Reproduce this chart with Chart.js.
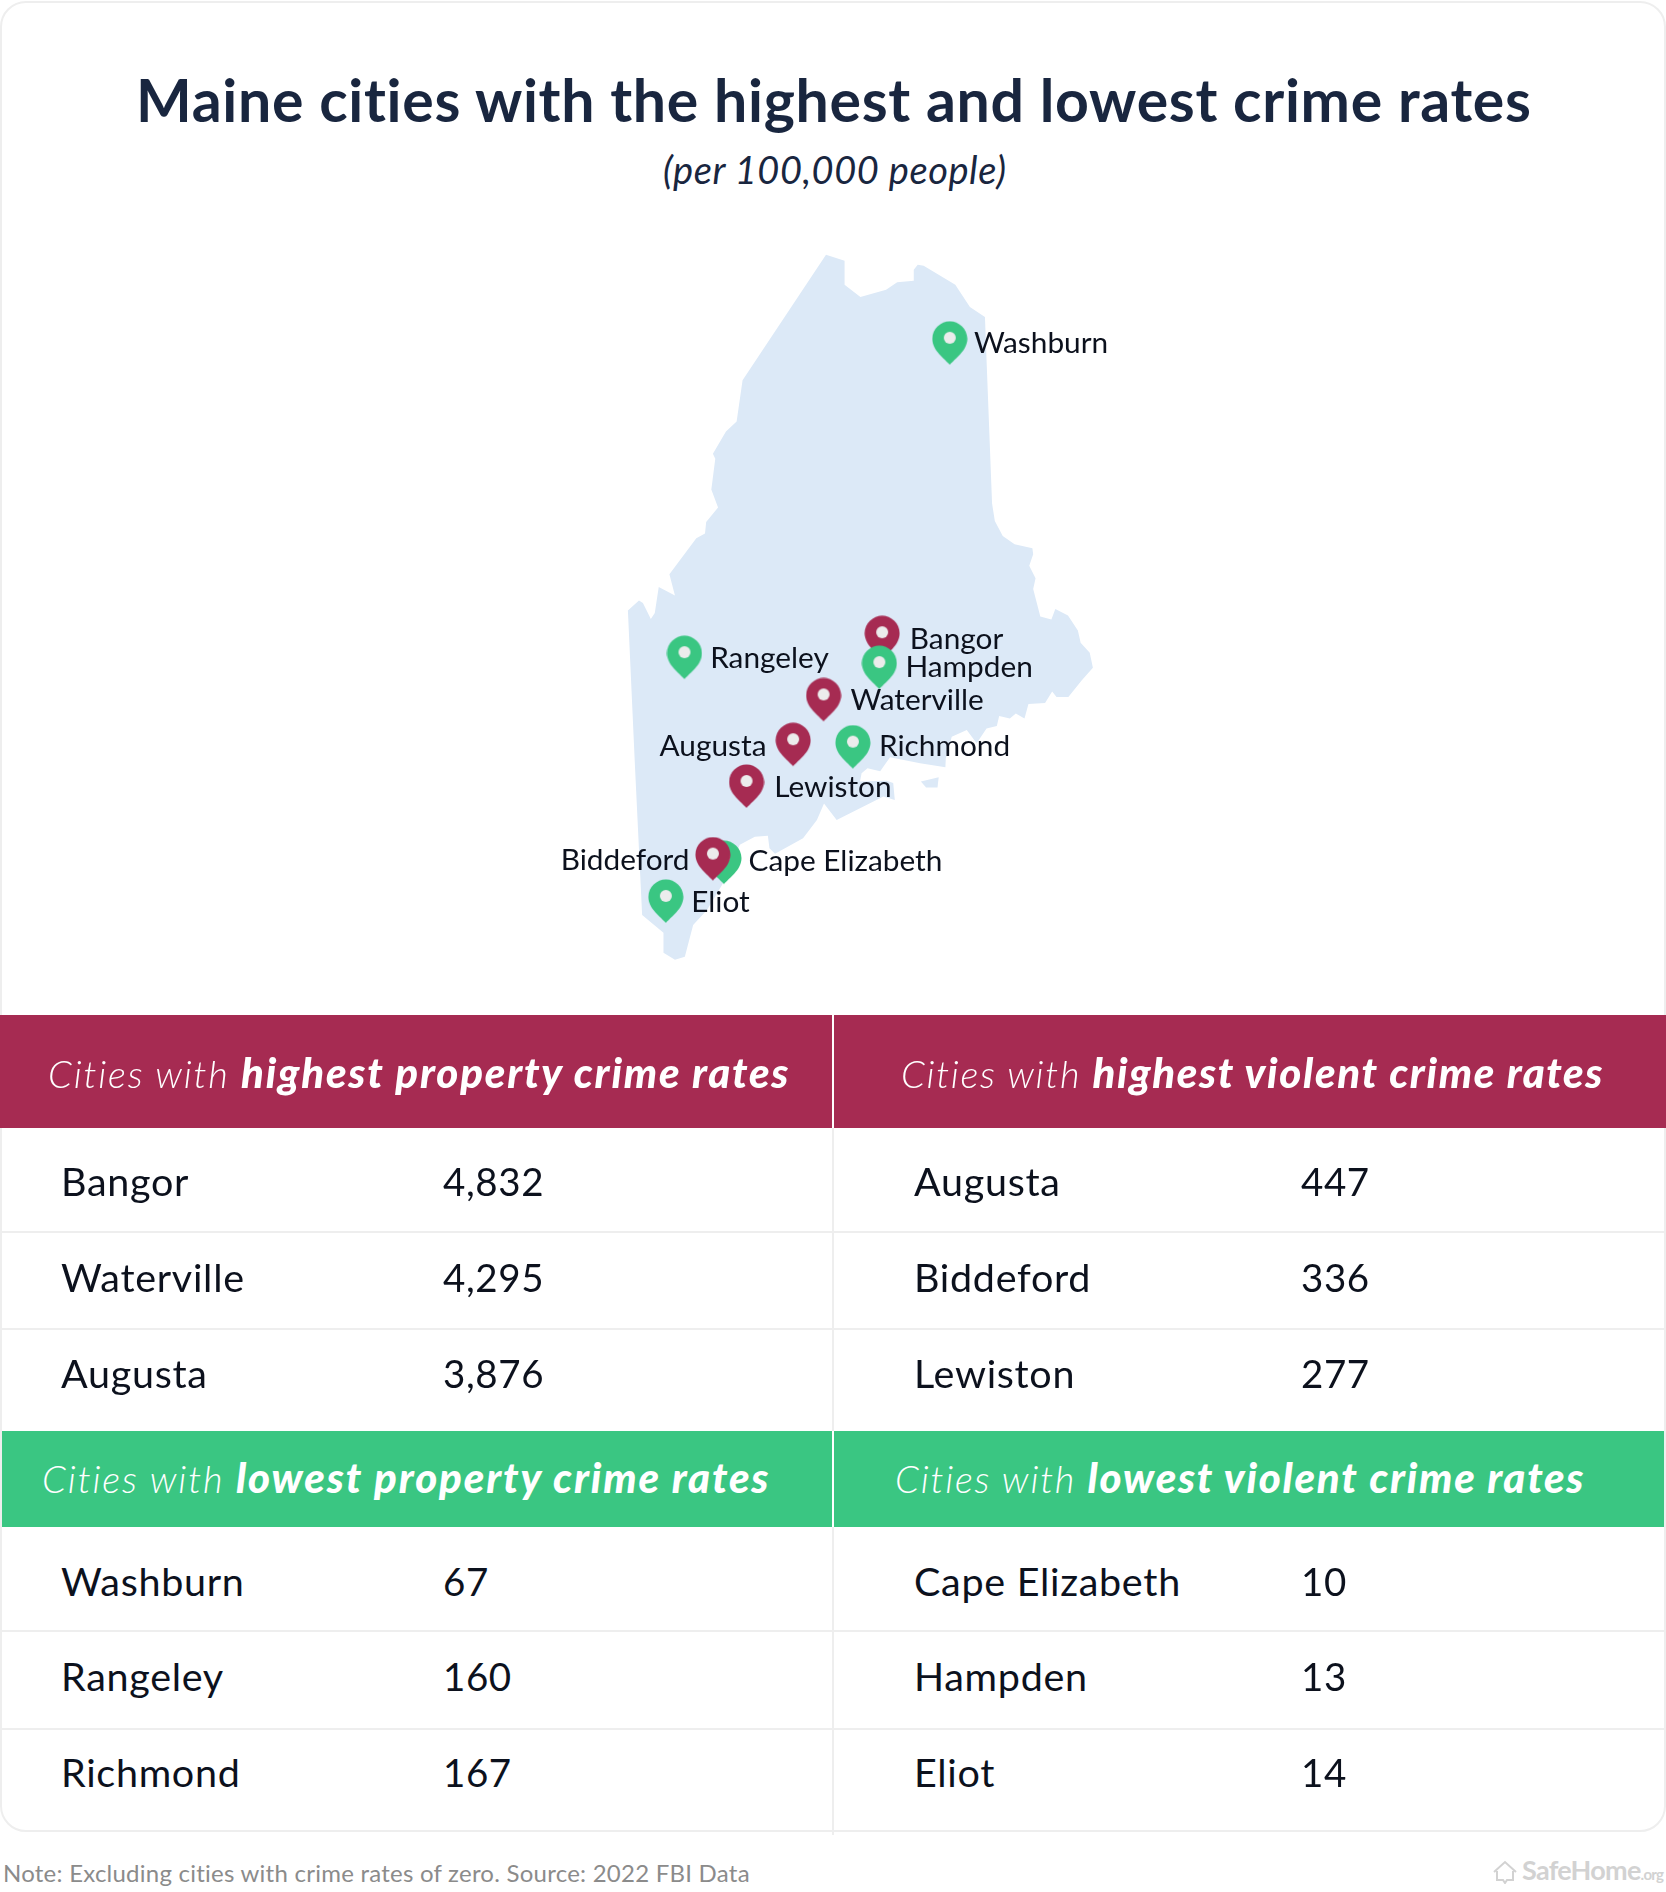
<!DOCTYPE html>
<html><head><meta charset="utf-8">
<script src="https://cdn.jsdelivr.net/npm/chart.js@4"></script>
<style>
html,body{margin:0;padding:0;background:#fff;}
#page{position:relative;width:1666px;height:1892px;overflow:hidden;background:#fff;font-family:Lato,sans-serif;}
.card{position:absolute;left:0;top:1px;width:1662px;height:1827px;border:2px solid #eeeeee;border-radius:26px;}
.box{position:absolute;}
.t{position:absolute;height:100px;line-height:0;white-space:nowrap;}
.t i.s{display:inline-block;height:100px;width:0;}
#map{position:absolute;left:550px;top:220px;}
</style></head><body><div id="page"><div class="card"></div><canvas id="map" width="620" height="780"></canvas></div>
<script>
// ---- text ----
const titleText = "Maine cities with the highest and lowest crime rates";
const subtitleText = "(per 100,000 people)";
const noteText = "Note: Excluding cities with crime rates of zero. Source: 2022 FBI Data";

// ---- table data ----
const highPropertyCities = ["Bangor","Waterville","Augusta"];
const highPropertyRates  = [4832,4295,3876];
const highViolentCities  = ["Augusta","Biddeford","Lewiston"];
const highViolentRates   = [447,336,277];
const lowPropertyCities  = ["Washburn","Rangeley","Richmond"];
const lowPropertyRates   = [67,160,167];
const lowViolentCities   = ["Cape Elizabeth","Hampden","Eliot"];
const lowViolentRates    = [10,13,14];

// ---- map data on a 0-1568 map grid ----
const mainlandOutline = [[698,70],[745,82],[745,130],[785,155],[850,140],[878,125],[920,122],[920,100],[930,90],[945,92],[1025,130],[1062,175],[1100,195],[1103,260],[1118,570],[1125,605],[1145,635],[1175,652],[1220,660],[1222,672],[1212,695],[1228,720],[1222,742],[1240,797],[1268,803],[1278,782],[1310,795],[1335,825],[1342,850],[1365,870],[1373,900],[1345,925],[1311,959],[1281,959],[1270,948],[1252,971],[1210,973],[1200,1002],[1178,992],[1163,1002],[1136,997],[1130,1017],[1104,1022],[1079,1052],[1054,1025],[1016,1039],[1001,1082],[1000,1100],[936,1092],[860,1080],[835,1108],[803,1102],[788,1112],[784,1129],[851,1127],[868,1132],[872,1166],[843,1159],[725,1206],[693,1173],[675,1206],[640,1243],[569,1274],[555,1263],[551,1238],[518,1240],[480,1256],[438,1333],[397,1387],[362,1417],[341,1481],[316,1487],[287,1473],[287,1433],[233,1397],[215,1100],[197,785],[225,765],[235,770],[255,802],[265,790],[275,738],[316,755],[302,712],[370,640],[392,630],[395,607],[425,578],[408,542],[418,480],[412,470],[445,425],[472,405],[487,322]];
const islandOutline = [[938,1129],[983,1120],[980,1141],[951,1141]];

const highViolentPins  = [[615,1098],[412,1328],[497,1182]];   // Augusta, Biddeford, Lewiston
const lowViolentPins   = [[440,1335],[833,943],[293,1413]];    // Cape Elizabeth, Hampden, Eliot
const lowPropertyPins  = [[1011,291],[340,923],[766,1103]];    // Washburn, Rangeley, Richmond
const highPropertyPins = [[840,883],[692,1008]];               // Bangor, Waterville

const labelNames = ["Washburn","Rangeley","Bangor","Hampden","Waterville","Augusta","Richmond","Lewiston","Biddeford","Cape Elizabeth","Eliot"];
const labelSpots = [[1072,268],[405,900],[910,862],[899,918],[760,985],[277,1077],[832,1077],[567,1160],[27,1306],[502,1308],[357,1392]];

// ---- colours ----
const RED="#a62b52", GREEN="#3ac682", LAND="#dce9f7", INK="#0c111d", NAVY="#19263f", RULE="#eeeeee";

const page=document.getElementById('page');
function box(x,y,w,h,c){const d=document.createElement('div');d.className='box';d.style.cssText=`left:${x}px;top:${y}px;width:${w}px;height:${h}px;background:${c}`;page.appendChild(d);}
function text(x,base,html,css,fit){
  const d=document.createElement('div');d.className='t';
  d.style.cssText=`left:${x}px;top:${base-100}px;`+css;
  d.innerHTML='<i class="s"></i>'+html;page.appendChild(d);
  if(fit){const w=d.getBoundingClientRect().width,n=d.textContent.length-1;d.style.letterSpacing=((fit-w)/n)+'px';}
  return d;
}
text(136,122,titleText,`font-size:59px;font-weight:700;color:${NAVY};`,1396);
text(663,184,subtitleText,`font-size:38px;font-style:italic;color:${NAVY};`,343);

// table
box(0,1015,1666,113,RED);
box(2,1431,1662,96,GREEN);
box(832,1015,2,512,'#ffffff');
box(832,1128,2,707,RULE);
box(832,1431,2,96,'#ffffff');
[1231,1328,1630,1728].forEach(y=>{box(2,y,830,2,RULE);box(834,y,830,2,RULE);});
const hs=`font-size:38px;font-style:italic;color:#fff;`;
function hdr(x,base,w,bold){text(x,base,`<span style="font-weight:300">Cities with </span><b style="font-weight:900;font-size:42px">${bold}</b>`,hs,w);}
hdr(48,1088,740,"highest property crime rates");
hdr(901,1088,701,"highest violent crime rates");
hdr(42,1493,726,"lowest property crime rates");
hdr(895,1493,688,"lowest violent crime rates");
const ns1=`font-size:39.5px;color:${INK};letter-spacing:.7px;`;
const vs1=`font-size:38.5px;color:${INK};letter-spacing:.6px;`;
function rows(x1,x2,bases,names,vals){names.forEach((n,i)=>{text(x1,bases[i],n,ns1);text(x2,bases[i],vals[i].toLocaleString('en-US'),vs1);});}
const upperBases=[1196,1292,1388],lowerBases=[1596,1691,1787];
rows(61,443,upperBases,highPropertyCities,highPropertyRates);
rows(914,1301,upperBases,highViolentCities,highViolentRates);
rows(61,443,lowerBases,lowPropertyCities,lowPropertyRates);
rows(914,1301,lowerBases,lowViolentCities,lowViolentRates);

// footer
text(3,1882,noteText,`font-size:24px;color:#8b8b8b;`,747);
text(1522,1880,'SafeHome<span style="font-size:15px">.org</span>',`font-size:27px;font-weight:700;color:#d2d2d2;`,142);
const ns='http://www.w3.org/2000/svg';
const ic=document.createElementNS(ns,'svg');ic.setAttribute('width','24');ic.setAttribute('height','24');ic.setAttribute('viewBox','0 0 24 24');ic.style.cssText='position:absolute;left:1493px;top:1860px';
ic.innerHTML='<path d="M1 12 L12 2 L23 12 M4 11 V20 H10 L12 23 L14 20 H20 V11" fill="none" stroke="#d2d2d2" stroke-width="2"/>';page.appendChild(ic);

// pins: image is twice the pin height so that its centre is the pin's tip
function pin(color){
  const c=document.createElement('canvas');c.width=36;c.height=88;const g=c.getContext('2d');
  const r=17.5,cx=18,cy=18;
  g.fillStyle=color;g.beginPath();
  g.moveTo(cx,44);
  g.bezierCurveTo(cx-5,38,cx-r,30,cx-r,cy);
  g.bezierCurveTo(cx-r,8,cx-9,.5,cx,.5);
  g.bezierCurveTo(cx+9,.5,cx+r,8,cx+r,cy);
  g.bezierCurveTo(cx+r,30,cx+5,38,cx,44);
  g.fill();
  g.fillStyle='#ececec';g.beginPath();g.arc(cx,cy-1,6,0,Math.PI*2);g.fill();
  return c;
}
const redPin=pin(RED),greenPin=pin(GREEN);
const xy=a=>a.map(p=>({x:p[0],y:p[1]}));
const pinSet=(label,a,img)=>({label,data:xy(a),showLine:false,pointStyle:img,pointRadius:18,clip:false});
const landSet=(label,a)=>({label,data:xy(a),showLine:true,fill:'shape',backgroundColor:LAND,borderColor:LAND,borderWidth:0,pointRadius:0,tension:0});

const labelPlugin={id:'cityLabels',afterDatasetsDraw(ch){
  const g=ch.ctx,sx=ch.scales.x,sy=ch.scales.y;
  g.save();g.font='29.8px Lato, sans-serif';g.fillStyle=INK;g.textBaseline='alphabetic';g.textAlign='left';
  labelNames.forEach((n,i)=>g.fillText(n,sx.getPixelForValue(labelSpots[i][0]),sy.getPixelForValue(labelSpots[i][1])));
  g.restore();
}};
new Chart(document.getElementById('map'),{
  type:'scatter',
  data:{datasets:[
    pinSet('Highest violent crime',highViolentPins,redPin),
    pinSet('Lowest violent crime',lowViolentPins,greenPin),
    pinSet('Lowest property crime',lowPropertyPins,greenPin),
    pinSet('Highest property crime',highPropertyPins,redPin),
    landSet('Island',islandOutline),
    landSet('Maine',mainlandOutline)
  ]},
  options:{
    responsive:false,animation:false,devicePixelRatio:1,
    layout:{padding:0,autoPadding:false},
    plugins:{legend:{display:false},tooltip:{enabled:false},title:{display:false}},
    scales:{
      x:{type:'linear',display:false,min:0,max:1568},
      y:{type:'linear',display:false,min:0,max:1568,reverse:true}
    }
  },
  plugins:[labelPlugin]
});
</script></body></html>
